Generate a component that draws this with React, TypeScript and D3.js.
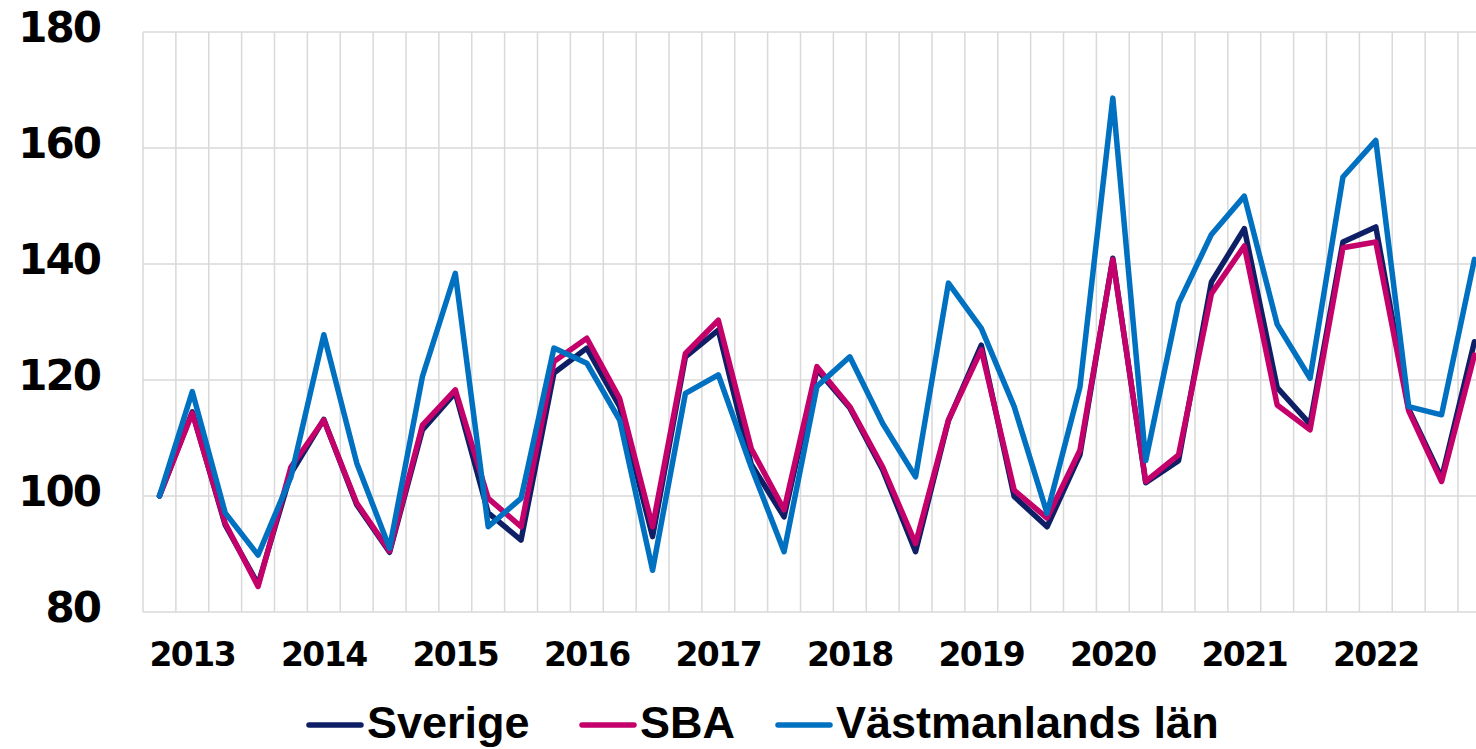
import React from "react";
import * as d3 from "d3";

// Index (2013 K1 = 100), quarterly
const years = [2013, 2014, 2015, 2016, 2017, 2018, 2019, 2020, 2021, 2022, 2023];
const quarters = ["K1", "K2", "K3", "K4"];
const categories = years
  .flatMap((yr) => quarters.map((q) => `${yr} ${q}`))
  .slice(0, 41);

const sverige = [
  100, 114.5, 95, 84.8, 103.9, 113.2, 98.5, 90.3, 111.4, 117.8, 97.1, 92.4,
  121.2, 125.5, 115.4, 93.0, 124.0, 128.6, 105.5, 96.4, 121.8, 115.2, 104.5,
  90.4, 113, 126.0, 99.9, 94.7, 107.1, 141, 102.3, 106.1, 136.9, 146.1, 118.7,
  112.4, 143.8, 146.4, 115, 103.1, 126.6,
];
const sba = [
  100, 114.3, 95.3, 84.4, 105.0, 113.1, 98.8, 90.5, 112.2, 118.3, 99.6, 94.7,
  123.2, 127.2, 116.8, 94.7, 124.6, 130.3, 108.2, 97.6, 122.3, 115.4, 105.0,
  91.8, 113.1, 125.2, 101.0, 96.2, 107.9, 140.8, 102.5, 107.1, 134.9, 143.1,
  115.7, 111.4, 142.8, 143.8, 114.7, 102.5, 124.3,
];
const vastmanland = [
  100, 118.0, 97.1, 89.8, 103.3, 127.8, 105.7, 91.0, 120.6, 138.4, 94.7, 99.6,
  125.5, 122.9, 113.1, 87.2, 117.7, 120.9, 105.0, 90.4, 118.9, 124.0, 112.5,
  103.3, 136.7, 128.9, 115.4, 97.0, 118.8, 168.6, 106.1, 133.2, 145.1, 151.7,
  129.6, 120.3, 155.0, 161.3, 115.4, 114.0, 140.8,
];

const yTicks = [80, 100, 120, 140, 160, 180];
// year label sits under the second quarter of each year
const yearLabels = ["2013", "2014", "2015", "2016", "2017", "2018", "2019", "2020", "2021", "2022"];

const series = [
  { name: "Sverige", values: sverige, color: "#0f1f66" },
  { name: "SBA", values: sba, color: "#c4006b" },
  { name: "Västmanlands län", values: vastmanland, color: "#0070c0" },
];

const W = 1476;
const H = 749;
const left = 143;
const step = 32.875;

export default function App() {
  const x = d3
    .scaleBand<string>()
    .domain(categories)
    .range([left, left + categories.length * step])
    .paddingInner(0)
    .paddingOuter(0);
  const y = d3.scaleLinear().domain([80, 180]).range([612, 32]);
  const cx = (c: string) => (x(c) as number) + x.bandwidth() / 2;

  const line = d3
    .line<number>()
    .x((_, i) => cx(categories[i]))
    .y((d) => y(d));

  const right = left + categories.length * step;
  const digitFont = "'DejaVu Sans', sans-serif";
  const legendFont = "'Liberation Sans', Arial, sans-serif";

  const legendItems = [
    { ...series[0], lx: 309 },
    { ...series[1], lx: 582 },
    { ...series[2], lx: 778 },
  ];

  return (
    <svg
      width={W}
      height={H}
      style={{ position: "absolute", left: 0, top: 0, display: "block", background: "#fff" }}
    >
      <g className="grid">
        {yTicks.map((t) => (
          <line key={"h" + t} x1={left} x2={right} y1={y(t)} y2={y(t)} stroke="#d9d9d9" strokeWidth={1.5} />
        ))}
        {categories.map((c) => (
          <line
            key={"v" + c}
            x1={x(c) as number}
            x2={x(c) as number}
            y1={y(180)}
            y2={y(80)}
            stroke="#d9d9d9"
            strokeWidth={1.5}
          />
        ))}
      </g>

      {yTicks.map((t) => (
        <text
          key={"yl" + t}
          x={100}
          y={y(t) - 2}
          textAnchor="end"
          dominantBaseline="middle"
          fontFamily={digitFont}
          fontWeight="bold"
          fontSize={42}
          letterSpacing={-2}
          fill="#000"
        >
          {t}
        </text>
      ))}

      {yearLabels.map((lab, k) => (
        <text
          key={"xl" + lab}
          x={cx(categories[1 + k * 4])}
          y={666}
          textAnchor="middle"
          fontFamily={digitFont}
          fontWeight="bold"
          fontSize={33}
          letterSpacing={-1.5}
          fill="#000"
        >
          {lab}
        </text>
      ))}

      {series.map((s) => (
        <path
          key={s.name}
          d={line(s.values) || ""}
          fill="none"
          stroke={s.color}
          strokeWidth={5.5}
          strokeLinejoin="round"
          strokeLinecap="round"
        />
      ))}

      <g className="legend">
        {legendItems.map((s) => (
          <g key={"lg" + s.name}>
            <line x1={s.lx} x2={s.lx + 52} y1={725} y2={725} stroke={s.color} strokeWidth={5.5} strokeLinecap="round" />
            <text
              x={s.lx + 58}
              y={738}
              fontFamily={legendFont}
              fontWeight="bold"
              fontSize={45}
              fill="#000"
            >
              {s.name}
            </text>
          </g>
        ))}
      </g>
    </svg>
  );
}
